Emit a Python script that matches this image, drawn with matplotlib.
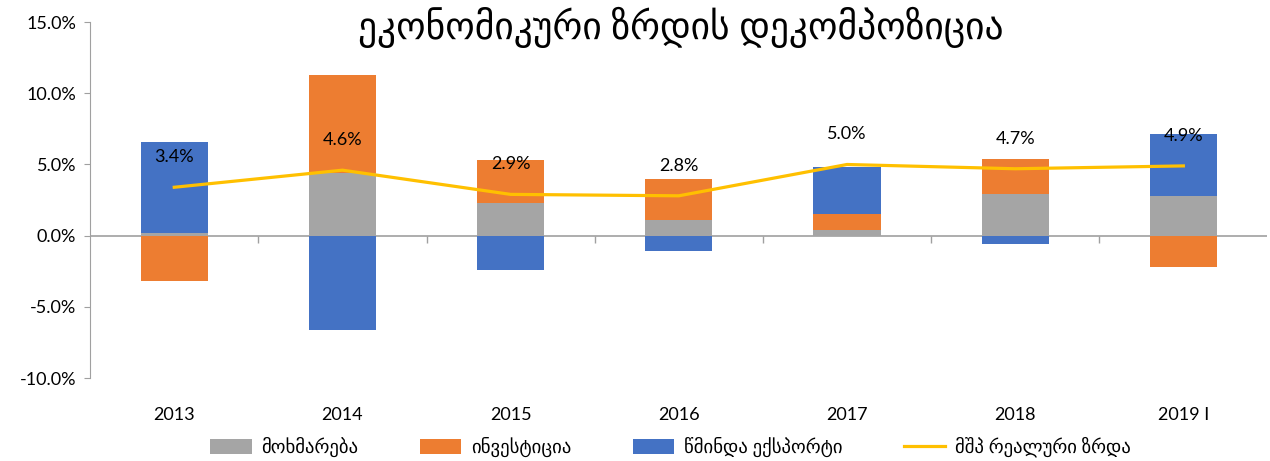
import numpy as np
import matplotlib
matplotlib.use('Agg')
import matplotlib.pyplot as plt
from matplotlib.ticker import FuncFormatter

plt.rcParams['font.family'] = ['Lato', 'DejaVu Sans']

years = ['2013', '2014', '2015', '2016', '2017', '2018', '2019 I']
consumption = [0.2, 4.4, 2.3, 1.1, 0.4, 2.9, 2.8]
investment = [-3.2, 6.9, 3.0, 2.9, 1.1, 2.5, -2.2]
net_exports = [6.4, -6.6, -2.4, -1.05, 3.3, -0.6, 4.35]
gdp_growth = [3.4, 4.6, 2.9, 2.8, 5.0, 4.7, 4.9]

names = ['მოხმარება', 'ინვესტიცია', 'წმინდა ექსპორტი', 'მშპ რეალური ზრდა']
colors = ['#A5A5A5', '#ED7D31', '#4472C4', '#FFC000']

fig = plt.figure(figsize=(12.7, 4.61), dpi=100)
ax = fig.add_axes([0.071, 0.18, 0.927, 0.772])

x = np.arange(len(years))
pos_base = np.zeros(len(years))
neg_base = np.zeros(len(years))
handles = []
for vals, c, n in zip([consumption, investment, net_exports], colors[:3], names[:3]):
    vals = np.array(vals)
    bottoms = np.where(vals >= 0, pos_base, neg_base)
    b = ax.bar(x, vals, 0.4, bottom=bottoms, color=c, label=n, zorder=2)
    handles.append(b)
    pos_base = pos_base + np.where(vals >= 0, vals, 0)
    neg_base = neg_base + np.where(vals < 0, vals, 0)

ln, = ax.plot(x, gdp_growth, color=colors[3], lw=2.3, label=names[3], zorder=3)
handles.append(ln)

for xi, g in zip(x, gdp_growth):
    ax.annotate(f'{g:.1f}%', (xi, g), xytext=(0, 30), textcoords='offset pixels',
                ha='center', va='center', fontsize=13, zorder=4)

ax.set_xlim(-0.5, len(years) - 0.5)
ax.set_ylim(-10, 15)
ax.set_yticks(np.arange(-10, 16, 5))
ax.yaxis.set_major_formatter(FuncFormatter(lambda v, p: f'{v:.1f}%'))
ax.tick_params(axis='y', labelsize=13, length=4, color='#A0A0A0', pad=6)

ax.set_xticks(x)
ax.set_xticklabels(years, fontsize=13)
ax.tick_params(axis='x', length=0, pad=21)

ax.axhline(0, color='#A0A0A0', lw=1.2, zorder=1)
bounds = np.arange(0.5, len(years) - 1, 1.0)
ax.vlines(bounds, -0.5, 0, color='#A0A0A0', lw=1.0, zorder=1)

for s in ['top', 'right', 'bottom']:
    ax.spines[s].set_visible(False)
ax.spines['left'].set_color('#A0A0A0')

fig.text(0.536, 0.94, 'ეკონომიკური ზრდის დეკომპოზიცია', ha='center', va='center', fontsize=27)

fig.legend(handles=handles, loc='center', bbox_to_anchor=(0.528, 0.03), ncol=4,
           frameon=False, fontsize=13.5, handlelength=2.2, handleheight=0.9,
           columnspacing=3.3, handletextpad=0.5)

fig.savefig('out.png', dpi=100)
